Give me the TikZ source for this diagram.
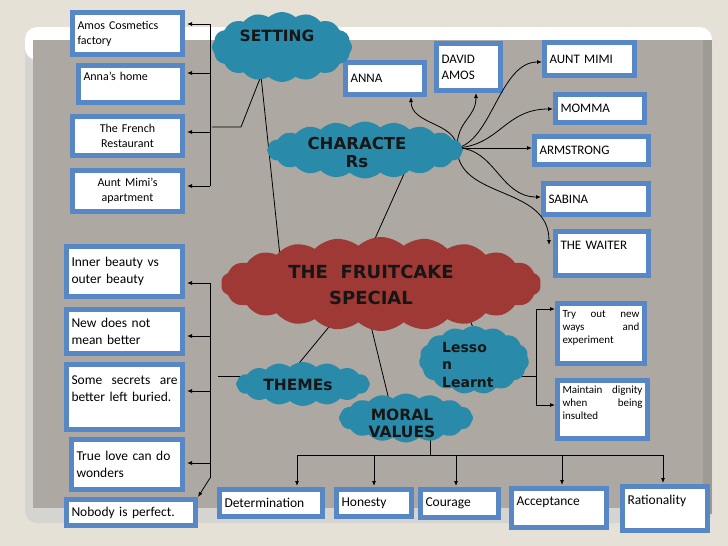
\documentclass[tikz,border=0pt]{standalone}
\usepackage{fontspec}
\setmainfont{Carlito}
\newfontfamily\cloudfont{DejaVu Sans}
\usetikzlibrary{shapes.symbols,arrows.meta}
\definecolor{bgc}{RGB}{230,225,215}
\definecolor{panel}{RGB}{173,169,162}
\definecolor{panelside}{RGB}{158,154,148}
\definecolor{rim}{RGB}{214,212,208}
\definecolor{boxblue}{RGB}{88,135,198}
\definecolor{cteal}{RGB}{42,138,170}
\definecolor{cred}{RGB}{158,57,53}
\definecolor{ctext}{RGB}{22,22,22}
\newcommand{\mybox}[7]{%
  \pgfmathsetmacro{\bxw}{#4-#2-5}%
  \pgfmathsetmacro{\bxh}{#5-#3-5}%
  \pgfmathsetmacro{\bxt}{#4-#2-15}%
  \node[box,#6,minimum width=\bxw pt,minimum height=\bxh pt,text width=\bxt pt] (#1) at (#2,#3) {#7};}
\begin{document}
\begin{tikzpicture}[x=1pt,y=-1pt,
  box/.style={draw=boxblue,line width=5pt,fill=white,anchor=north west,outer sep=2.5pt,
    inner xsep=5pt,inner ysep=1pt,align=left,font=\fontsize{13}{16}\selectfont},
  sfont/.style={font=\fontsize{12}{15}\selectfont},
  tfont/.style={font=\fontsize{13.5}{17}\selectfont},
  cfont/.style={font=\fontsize{13}{16}\selectfont},
  lfont/.style={font=\fontsize{11}{13}\selectfont},
  arr/.style={-{Latex[length=5pt,width=4pt]},line width=0.8pt},
  ln/.style={line width=0.8pt},
  tcloud/.style={cloud,cloud ignores aspect,cloud puffs=#1,cloud puff arc=85,fill=cteal,draw=none,inner sep=0pt},
  rcloud/.style={cloud,cloud ignores aspect,cloud puffs=#1,cloud puff arc=85,fill=cred,draw=none,inner sep=0pt},
  clabel/.style={text=ctext,inner sep=0pt,align=center},
  cf/.style 2 args={font=\cloudfont\bfseries\fontsize{#1}{#2}\selectfont}
]
\useasboundingbox (0,0) rectangle (728,546);
% board
\fill[bgc] (0,0) rectangle (728,546);
\fill[rim,rounded corners=12pt] (25,27) rectangle (712,523);
\fill[white,rounded corners=12pt] (25,27) rectangle (712,60);
\fill[panelside] (700,40) rectangle (712,514);
\fill[panel] (33,40) rectangle (703,508);

% boxes: setting
\mybox{amos}{70}{10}{185}{57}{sfont}{Amos Cosmetics\\factory}
\mybox{annah}{76}{63}{185}{105}{sfont}{Anna’s home\\ \mbox{}}
\mybox{french}{70}{114}{185}{158}{sfont,align=center}{The French\\Restaurant}
\mybox{mimi}{70}{168}{185}{214}{sfont,align=center}{Aunt Mimi’s\\apartment}
% themes
\mybox{inner}{64}{244}{185}{299}{tfont}{Inner beauty vs\\outer beauty}
\mybox{newd}{64}{307}{185}{356}{tfont}{New does not\\mean better}
\mybox{secrets}{64}{362}{185}{432}{tfont}{Some\hfill secrets\hfill are\\better left buried.\\ \mbox{}}
\mybox{truelove}{69}{437}{185}{492}{tfont}{True love can do\\wonders}
\mybox{nobody}{64}{497}{198}{528}{tfont}{Nobody is perfect.}
% characters
\mybox{anna}{343}{60}{427}{97}{cfont}{ANNA}
\mybox{david}{434}{41}{503}{93}{cfont}{DAVID\\AMOS}
\mybox{auntmimi}{542}{40}{637}{78}{cfont}{AUNT MIMI}
\mybox{momma}{553}{92}{647}{125}{cfont}{MOMMA}
\mybox{armstrong}{532}{134}{651}{167}{cfont}{ARMSTRONG}
\mybox{sabina}{541}{181}{651}{217}{cfont}{SABINA}
\mybox{waiter}{553}{229}{651}{278}{cfont}{THE WAITER\\ \mbox{}}
% lessons
\mybox{tryout}{555}{301}{647}{366}{lfont}{Try\hfill out\hfill new\\ways\hfill and\\experiment\\ \mbox{}}
\mybox{maintain}{555}{378}{650}{441}{lfont}{Maintain\hfill dignity\\when\hfill being\\insulted\\ \mbox{}}
% moral values
\mybox{determination}{217}{487}{325}{519}{tfont}{Determination}
\mybox{honesty}{334}{487}{414}{519}{tfont}{Honesty}
\mybox{courage}{418}{487}{501}{520}{tfont}{Courage}
\mybox{acceptance}{509}{486}{609}{530}{tfont}{Acceptance\\[-4pt] \mbox{}}
\mybox{rationality}{620}{484}{710}{533}{tfont}{Rationality\\ \mbox{}}

% setting connectors
\coordinate (s1) at (210,24);
\coordinate (s2) at (210,73);
\coordinate (s3) at (210,132);
\coordinate (s4) at (210,186);
\draw[ln] (s1) -- (s4);
\foreach \c/\b in {s1/amos,s2/annah,s3/french,s4/mimi}
  \draw[arr,shorten >=2pt] (\c) -- (\c -| \b.east);
\coordinate (sb1) at (212,127);
\coordinate (sb2) at (241,127);
\coordinate (sb3) at (261,76);
\draw[ln] (sb1) -- (sb2) -- (sb3);
\coordinate (fs) at (280,256);
\draw[ln] (sb3) -- (fs);
% characters to fruitcake
\coordinate (cf1) at (408,165);
\coordinate (cf2) at (369,252);
\draw[ln] (cf1) -- (cf2);
% character curves
\coordinate (O) at (457,148);
\coordinate (ta) at (411,97);
\coordinate (td) at (476,93);
\coordinate (tm) at (542,62);
\coordinate (tmo) at (553,109);
\coordinate (tar) at (532,148);
\coordinate (ts) at (541,197);
\coordinate (tw) at (549,245);
\draw[arr] (O) .. controls (456,122) and (411,125) .. (ta);
\draw[arr] (O) .. controls (457,120) and (476,118) .. (td);
\draw[arr] (O) .. controls (492,140) and (500,62) .. (tm);
\draw[arr] (O) .. controls (500,145) and (505,109) .. (tmo);
\draw[arr] (O) -- (tar);
\draw[arr] (O) .. controls (495,148) and (500,197) .. (ts);
\draw[arr] (O) .. controls (458,200) and (549,185) .. (tw);
% fruitcake to themes / moral / lesson
\coordinate (ft1) at (333,322);
\coordinate (ft2) at (291,373);
\draw[ln] (ft1) -- (ft2);
\coordinate (fm1) at (370,322);
\coordinate (fm2) at (389,400);
\draw[ln] (fm1) -- (fm2);
\coordinate (fl1) at (463,303);
\coordinate (fl2) at (476,335);
\draw[ln] (fl1) -- (fl2);
% themes connectors
\coordinate (th0) at (218,376);
\coordinate (th1) at (252,376);
\draw[ln] (th0) -- (th1);
\coordinate (t1) at (210,283);
\coordinate (t2) at (210,336);
\coordinate (t3) at (210,391);
\coordinate (t4) at (210,463);
\coordinate (t5) at (210,478);
\draw[ln] (t1) -- (t5);
\foreach \c/\b in {t1/inner,t2/newd,t3/secrets,t4/truelove}
  \draw[arr,shorten >=2pt] (\c) -- (\c -| \b.east);
\draw[arr] (t5) -- (nobody.north east);
% lesson connectors
\coordinate (l0) at (520,376);
\coordinate (lm) at (536,376);
\coordinate (l1) at (536,309);
\coordinate (l2) at (536,405);
\draw[ln] (l0) -- (lm);
\draw[ln] (l1) -- (l2);
\draw[arr] (l1) -- (l1 -| tryout.west);
\draw[arr] (l2) -- (l2 -| maintain.west);
% moral connectors
\coordinate (m0) at (430,430);
\coordinate (mA) at (297,455);
\coordinate (mB) at (374,455);
\coordinate (mC) at (456,455);
\coordinate (mD) at (562,455);
\coordinate (mE) at (663,455);
\draw[ln] (m0) -- (m0 |- mA);
\draw[ln] (mA) -- (mE);
\foreach \c/\b in {mA/determination,mB/honesty,mC/courage,mD/acceptance,mE/rationality}
  \draw[arr,shorten >=1pt] (\c) -- (\c |- \b.north);

% clouds
\node[tcloud=16,minimum width=140pt,minimum height=70pt] (setting) at (282,47) {};
\node[tcloud=20,minimum width=196pt,minimum height=57pt] (charac) at (365,150) {};
\node[rcloud=22,minimum width=320pt,minimum height=94pt] (fruit) at (381,284) {};
\node[tcloud=16,minimum width=134pt,minimum height=44pt] (themes) at (303,384) {};
\node[tcloud=15,minimum width=110pt,minimum height=68pt] (lesson) at (474,360) {};
\node[tcloud=16,minimum width=134pt,minimum height=49pt] (moral) at (406,418) {};
% cloud labels
\node[clabel,cf={15.5}{18}] (settingt) at (277,36) {SETTING};
\node[clabel,cf={16.5}{19}] (charact1) at (357,143) {CHARACTE};
\node[clabel,cf={16.5}{19}] (charact2) at (357,162) {Rs};
\node[clabel,cf={18}{26}] (fruitt1) at (371,272) {THE\ \ FRUITCAKE};
\node[clabel,cf={18}{26}] (fruitt2) at (371,298) {SPECIAL};
\node[clabel,cf={15.5}{18}] (themest) at (298,385) {THEMEs};
\node[clabel,cf={14}{17.5},align=left,anchor=north west] (lessont) at (442,342) {Lesso\\n\\Learnt};
\node[clabel,cf={15.5}{17}] (moralt) at (402,423) {MORAL\\VALUES};
\end{tikzpicture}
\end{document}
